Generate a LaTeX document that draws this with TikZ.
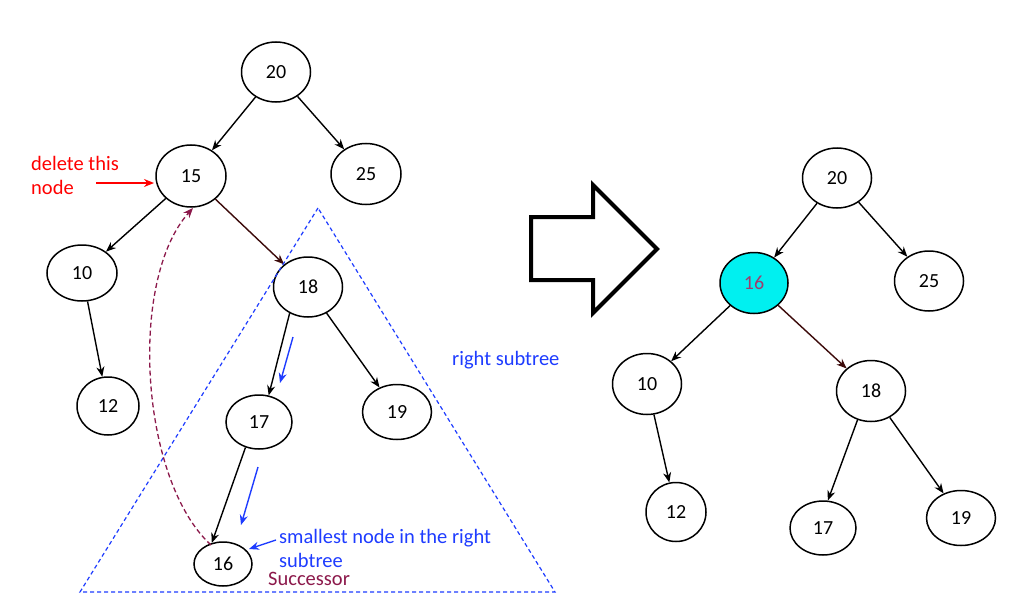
\documentclass[tikz,border=0pt]{standalone}
\usepackage{fontspec}
\setmainfont{Carlito}
\usetikzlibrary{arrows.meta,shapes.geometric}
\definecolor{darkbrown}{RGB}{60,10,10}
\definecolor{maroonc}{RGB}{140,25,75}
\definecolor{blueline}{RGB}{30,60,255}
\definecolor{cyanfill}{RGB}{0,240,240}
\definecolor{pinktext}{RGB}{160,60,110}
\tikzset{
  bst/.style args={#1/#2}{ellipse,draw=black,line width=1.5pt,minimum width=#1pt,minimum height=#2pt,inner sep=0pt,font=\fontsize{20}{22}\selectfont},
  edge/.style={line width=1.4pt,-{Stealth[length=10pt,width=8pt]}},
  label/.style={font=\fontsize{20.5}{24}\selectfont,align=left,inner sep=0pt},
}
\begin{document}
\begin{tikzpicture}[x=1pt,y=-1pt]
\useasboundingbox[fill=white] (0,0) rectangle (1024,615);
% left tree
\node[bst=69/60] (l20) at (276,72) {20};
\node[bst=70/62] (l15) at (191,176) {15};
\node[bst=70/61] (l25) at (366,174) {25};
\node[bst=70/56] (l10) at (82,273) {10};
\node[bst=62/58] (l12) at (108,406) {12};
\node[bst=69/60] (l18) at (308,287) {18};
\node[bst=66/54] (l17) at (259,422) {17};
\node[bst=69/55] (l19) at (397,412) {19};
\node[bst=58/44] (l16) at (223,564) {16};
\draw[edge] (l20) -- (l15);
\draw[edge] (l20) -- (l25);
\draw[edge] (l15) -- (l10);
\draw[edge,darkbrown] (l15) -- (l18);
\draw[edge] (l10) -- (l12);
\draw[edge] (l18.235) -- (l17.70);
\draw[edge] (l18) -- (l19);
\draw[edge] (l17.242) -- (l16.118);
% triangle
\coordinate (tA) at (318,208);
\coordinate (tB) at (80,592);
\coordinate (tC) at (555,592);
\draw[blueline,line width=1.2pt,dash pattern=on 4pt off 3pt] (tA) -- (tB) -- (tC) -- cycle;
% successor curve
\coordinate (cs) at (211,545);
\coordinate (ce) at (193,208);
\draw[maroonc,line width=1.3pt,dash pattern=on 5pt off 3pt,-{Stealth[length=10pt,width=8pt]}] (cs) .. controls (140,480) and (128,280) .. (ce);
% blue arrows
\coordinate (b1s) at (293,337);
\coordinate (b1e) at (280,383);
\coordinate (b2s) at (258,467);
\coordinate (b2e) at (241,525);
\draw[blueline,line width=1.4pt,-{Stealth[length=10pt,width=8pt]}] (b1s) -- (b1e);
\draw[blueline,line width=1.4pt,-{Stealth[length=10pt,width=8pt]}] (b2s) -- (b2e);
% labels
\node[label,text=red,anchor=west] (del) at (31,175) {delete this\\node};
\coordinate (rs) at (96,183);
\coordinate (re) at (154,183);
\draw[red,line width=1.4pt,-{Stealth[length=10pt,width=8pt]}] (rs) -- (re);
\node[label,text=blueline,anchor=west] (rsub) at (452,360) {right subtree};
\node[label,text=blueline,anchor=west] (small) at (279,548) {smallest node in the right\\subtree};
\coordinate (ss) at (276,540);
\coordinate (se) at (249,549);
\draw[blueline,line width=1.4pt,-{Stealth[length=10pt,width=8pt]}] (ss) -- (se);
\node[label,text=maroonc,anchor=west] (succ) at (268,579) {Successor};
% big hollow arrow
\draw[line width=4pt,miter limit=10] (531,217) -- (593,217) -- (593,185) -- (657,249) -- (593,313) -- (593,280) -- (531,280) -- cycle;
% right tree
\node[bst=69/60] (r20) at (837,178) {20};
\node[bst=68/61,fill=cyanfill,text=pinktext] (r16) at (754,283) {16};
\node[bst=69/60] (r25) at (929,281) {25};
\node[bst=69/61] (r10) at (647,384) {10};
\node[bst=60/59] (r12) at (676,512) {12};
\node[bst=69/61] (r18) at (871,391) {18};
\node[bst=66/54] (r17) at (823,528) {17};
\node[bst=69/55] (r19) at (961,518) {19};
\draw[edge] (r20) -- (r16);
\draw[edge] (r20) -- (r25);
\draw[edge] (r16) -- (r10);
\draw[edge,darkbrown] (r16) -- (r18);
\draw[edge] (r10) -- (r12);
\draw[edge] (r18.245) -- (r17.80);
\draw[edge] (r18) -- (r19);
\end{tikzpicture}
\end{document}
